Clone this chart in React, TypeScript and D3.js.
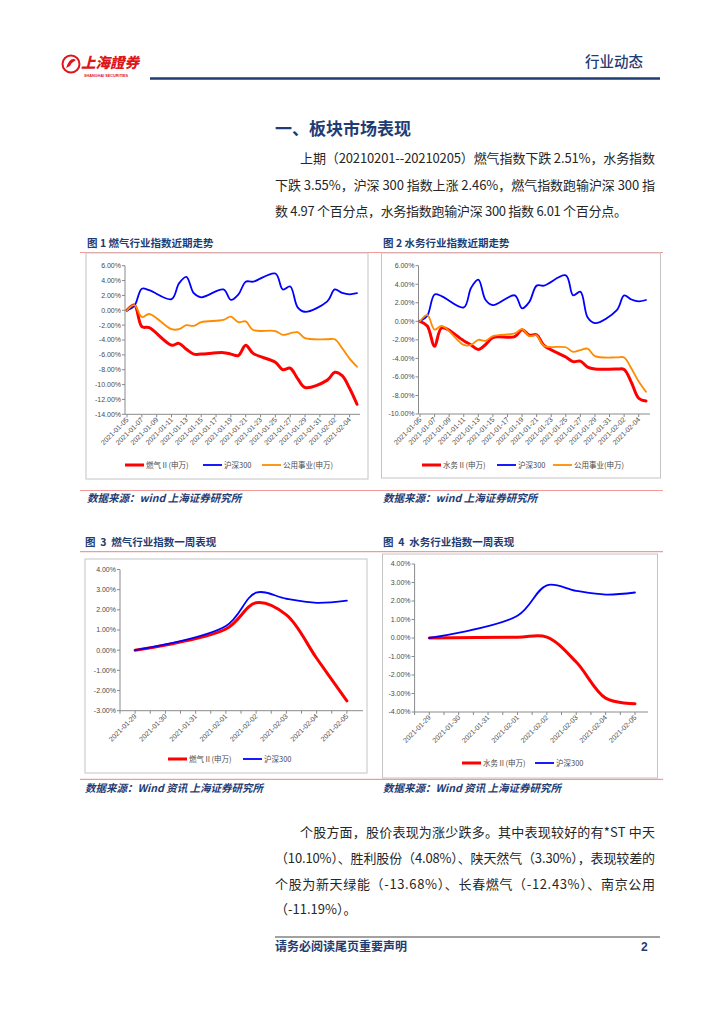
import * as d3 from 'd3';

// ---- data ----
const monthDays = ['2021-01-05', '2021-01-06', '2021-01-07', '2021-01-08', '2021-01-11', '2021-01-12', '2021-01-13', '2021-01-14', '2021-01-15', '2021-01-18', '2021-01-19', '2021-01-20', '2021-01-21', '2021-01-22', '2021-01-25', '2021-01-26', '2021-01-27', '2021-01-28', '2021-01-29', '2021-02-01', '2021-02-02', '2021-02-03', '2021-02-04', '2021-02-05'];
const hs300Month = [0, 0.6, 2.9, 2.7, 1.5, 3.6, 4.5, 2.3, 1.75, 2.8, 1.4, 2.1, 3.85, 3.85, 4.95, 2.8, 3.2, 0.4, -0.2, 1.2, 2.8, 2.35, 2.15, 2.3];
const gasMonth = [0, 0.7, -2.2, -2.35, -4.7, -4.45, -5.25, -5.9, -5.9, -5.7, -5.9, -6.1, -4.7, -5.8, -7.0, -8.0, -7.8, -9.2, -10.4, -9.4, -8.35, -8.8, -10.5, -12.65];
const utilMonth = [0, 0.7, -0.9, -0.5, -2.55, -2.55, -2.0, -2.1, -1.6, -1.3, -0.85, -1.6, -1.5, -2.65, -2.8, -3.3, -3.1, -2.95, -3.75, -3.9, -3.9, -5.1, -6.5, -7.6];
const waterMonth = [0, -0.5, -2.7, -0.7, -2.1, -2.55, -3.05, -2.5, -1.75, -1.65, -0.9, -1.5, -1.45, -2.6, -3.85, -4.35, -4.3, -4.95, -5.15, -5.15, -5.2, -6.6, -8.3, -8.6];

const weekDays = ['2021-01-29', '2021-02-01', '2021-02-02', '2021-02-03', '2021-02-04', '2021-02-05'];
const hs300Week = [0, 1.2, 2.85, 2.55, 2.35, 2.46];
const gasWeek = [0, 1.05, 2.35, 1.75, -0.4, -2.51];
const waterWeek = [0, 0.04, 0.05, -1.3, -3.25, -3.55];

const monthTickLabels = ['2021-01-05', '2021-01-07', '2021-01-09', '2021-01-11', '2021-01-13', '2021-01-15', '2021-01-17', '2021-01-19', '2021-01-21', '2021-01-23', '2021-01-25', '2021-01-27', '2021-01-29', '2021-01-31', '2021-02-02', '2021-02-04'];
const weekTickLabels = ['2021-01-29', '2021-01-30', '2021-01-31', '2021-02-01', '2021-02-02', '2021-02-03', '2021-02-04', '2021-02-05'];

const NAVY = '#1f3c73';
const PINK = '#f29a9a';
const AXIS = '#8a8a8a';
const LABEL = '#4a4a4a';
const RED = '#ff0000';
const BLUE = '#0000ff';
const ORANGE = '#ff8c00';
const CJK = '"Noto Sans CJK SC", "Noto Sans", sans-serif';
const LAT = '"Liberation Sans", Arial, sans-serif';

const parse = d3.timeParse('%Y-%m-%d');
const pct = (v: number) => v.toFixed(2) + '%';

type Series = { name: string; values: number[]; color: string; width: number; legendX: number };

function Chart(props: {
  dates: string[];
  series: Series[];
  xDomain: [Date, Date];
  xRange: [number, number];
  axisX: number;
  axisEnd: number;
  yMax: number;
  yMin: number;
  yStep: number;
  yTop: number;
  yBottom: number;
  tickDates: Date[];
  labelDates: string[];
  legendY: number;
}) {
  const x = d3.scaleTime().domain(props.xDomain).range(props.xRange);
  const y = d3.scaleLinear().domain([props.yMin, props.yMax]).range([props.yBottom, props.yTop]);
  const yTicks = d3.range(props.yMin, props.yMax + props.yStep / 2, props.yStep);
  const pts = props.dates.map(d => parse(d) as Date);
  const line = d3.line<[Date, number]>()
    .x(d => x(d[0]))
    .y(d => y(d[1]))
    .curve(d3.curveCatmullRom.alpha(0.5));
  return (
    <g>
      {/* y axis */}
      <line x1={props.axisX} x2={props.axisX} y1={props.yTop} y2={props.yBottom} stroke={AXIS} strokeWidth={1} />
      {yTicks.map(t => (
        <g key={t}>
          <line x1={props.axisX - 3} x2={props.axisX} y1={y(t)} y2={y(t)} stroke={AXIS} />
          <text x={props.axisX - 4} y={y(t)} dy="0.35em" textAnchor="end" fontSize={7} fill={LABEL} fontFamily={LAT}>{pct(t)}</text>
        </g>
      ))}
      {/* x axis */}
      <line x1={props.axisX} x2={props.axisEnd} y1={props.yBottom} y2={props.yBottom} stroke={AXIS} strokeWidth={1} />
      {props.tickDates.map((d, i) => (
        <line key={i} x1={x(d)} x2={x(d)} y1={props.yBottom} y2={props.yBottom + 3} stroke={AXIS} />
      ))}
      {props.labelDates.map(s => {
        const px = x(parse(s) as Date);
        return (
          <text key={s} transform={`translate(${px + 2},${props.yBottom + 6}) rotate(-45)`} textAnchor="end" fontSize={7} fill={LABEL} fontFamily={LAT}>{s}</text>
        );
      })}
      {/* lines */}
      {props.series.map(s => (
        <path key={s.name} d={line(pts.map((p, i) => [p, s.values[i]] as [Date, number])) || ''} fill="none" stroke={s.color} strokeWidth={s.width} strokeLinejoin="round" strokeLinecap="round" />
      ))}
      {/* legend */}
      {props.series.map(s => (
        <g key={'lg' + s.name}>
          <line x1={s.legendX} x2={s.legendX + 19} y1={props.legendY} y2={props.legendY} stroke={s.color} strokeWidth={s.width} />
          <text x={s.legendX + 21} y={props.legendY} dy="0.35em" fontSize={7.5} fill={LABEL} fontFamily={CJK}>{s.name}</text>
        </g>
      ))}
    </g>
  );
}

function day(s: string, h = 0) {
  const d = parse(s) as Date;
  return d3.timeHour.offset(d, h);
}

function weekTicks() {
  return d3.timeHour.every(12)!.range(day('2021-01-28', 12), day('2021-02-05', 1));
}

function BodyLine(p: { x: number; y: number; w?: number; children: string }) {
  return (
    <text x={p.x} y={p.y} fontSize={13} fill="#262626" fontFamily={CJK} textLength={p.w} lengthAdjust={p.w ? 'spacing' : undefined}>{p.children}</text>
  );
}

export default function App() {
  return (
    <div style={{ position: 'absolute', left: 0, top: 0 }}>
      <svg width={724} height={1024} style={{ display: 'block', background: '#fff' }}>
        {/* header */}
        <circle cx={71} cy={64} r={8.5} fill="none" stroke="#e0151b" strokeWidth={2} />
        <path d="M66,68 Q70,56 76,60 Q72,62 70,66 Z" fill="#e0151b" />
        <text x={81} y={68} fontSize={14.5} fontWeight={900} fontStyle="italic" fill="#e0151b" fontFamily={CJK}>上海證券</text>
        <text x={84} y={77} fontSize={3.8} fontWeight={700} fill="#e0151b" fontFamily={LAT}>SHANGHAI SECURITIES</text>
        <text x={585} y={67} fontSize={14.5} fill={NAVY} fontFamily={CJK} fontWeight={500}>行业动态</text>
        <line x1={150} x2={660} y1={78.5} y2={78.5} stroke={NAVY} strokeWidth={2.5} />

        {/* section heading + paragraph */}
        <text x={275} y={135} fontSize={17} fontWeight={700} fill={NAVY} fontFamily={CJK}>一、板块市场表现</text>
        <BodyLine x={300} y={163} w={355}>上期（20210201--20210205）燃气指数下跌 2.51%，水务指数</BodyLine>
        <BodyLine x={275} y={190} w={380}>下跌 3.55%，沪深 300 指数上涨 2.46%，燃气指数跑输沪深 300 指</BodyLine>
        <BodyLine x={275} y={216} w={352}>数 4.97 个百分点，水务指数跑输沪深 300 指数 6.01 个百分点。</BodyLine>

        {/* figure row 1 */}
        <text x={87} y={247} fontSize={10.5} fontWeight={700} fill={NAVY} fontFamily={CJK}>图 1 燃气行业指数近期走势</text>
        <text x={383} y={247} fontSize={10.5} fontWeight={700} fill={NAVY} fontFamily={CJK}>图 2 水务行业指数近期走势</text>
        <line x1={80} x2={663} y1={252.5} y2={252.5} stroke={PINK} strokeWidth={1.2} />
        <rect x={86} y={253} width={282} height={226} fill="none" stroke="#c4c4c4" />
        <rect x={381.5} y={253} width={279} height={225} fill="none" stroke="#c4c4c4" />
        <Chart
          dates={monthDays}
          series={[
            { name: '燃气Ⅱ(申万)', values: gasMonth, color: RED, width: 3, legendX: 125 },
            { name: '沪深300', values: hs300Month, color: BLUE, width: 1.8, legendX: 203 },
            { name: '公用事业(申万)', values: utilMonth, color: ORANGE, width: 1.8, legendX: 262 },
          ]}
          xDomain={[day('2021-01-05'), day('2021-02-05')]}
          xRange={[127, 357]}
          axisX={125}
          axisEnd={360}
          yMax={6} yMin={-14} yStep={2}
          yTop={265.7} yBottom={414.3}
          tickDates={monthTickLabels.map(s => day(s))}
          labelDates={monthTickLabels}
          legendY={465}
        />
        <Chart
          dates={monthDays}
          series={[
            { name: '水务Ⅱ(申万)', values: waterMonth, color: RED, width: 3, legendX: 422 },
            { name: '沪深300', values: hs300Month, color: BLUE, width: 1.8, legendX: 497 },
            { name: '公用事业(申万)', values: utilMonth, color: ORANGE, width: 1.8, legendX: 553 },
          ]}
          xDomain={[day('2021-01-05'), day('2021-02-05')]}
          xRange={[420, 646]}
          axisX={418.5}
          axisEnd={650}
          yMax={6} yMin={-10} yStep={2}
          yTop={265.7} yBottom={414}
          tickDates={monthTickLabels.map(s => day(s))}
          labelDates={monthTickLabels}
          legendY={465}
        />
        <line x1={80} x2={663} y1={490.5} y2={490.5} stroke={PINK} strokeWidth={1.2} />
        <text x={87} y={502} fontSize={10.5} fontWeight={700} fontStyle="italic" fill={NAVY} fontFamily={CJK}>数据来源：wind 上海证券研究所</text>
        <text x={383} y={502} fontSize={10.5} fontWeight={700} fontStyle="italic" fill={NAVY} fontFamily={CJK}>数据来源：wind 上海证券研究所</text>

        {/* figure row 2 */}
        <text x={85} y={546} fontSize={10.5} fontWeight={700} fill={NAVY} fontFamily={CJK} style={{ whiteSpace: 'pre' }}>图  3  燃气行业指数一周表现</text>
        <text x={383} y={546} fontSize={10.5} fontWeight={700} fill={NAVY} fontFamily={CJK} style={{ whiteSpace: 'pre' }}>图  4  水务行业指数一周表现</text>
        <line x1={80} x2={663} y1={551.7} y2={551.7} stroke={PINK} strokeWidth={1.2} />
        <rect x={85} y={559} width={282} height={214} fill="none" stroke="#c4c4c4" />
        <rect x={382.5} y={554} width={275} height={224} fill="none" stroke="#c4c4c4" />
        <Chart
          dates={weekDays}
          series={[
            { name: '燃气Ⅱ(申万)', values: gasWeek, color: RED, width: 3, legendX: 168 },
            { name: '沪深300', values: hs300Week, color: BLUE, width: 1.8, legendX: 243 },
          ]}
          xDomain={[day('2021-01-28', 12), day('2021-02-05', 12)]}
          xRange={[120, 362]}
          axisX={120}
          axisEnd={363}
          yMax={4} yMin={-3} yStep={1}
          yTop={569.5} yBottom={710.7}
          tickDates={weekTicks()}
          labelDates={weekTickLabels}
          legendY={759}
        />
        <Chart
          dates={weekDays}
          series={[
            { name: '水务Ⅱ(申万)', values: waterWeek, color: RED, width: 3, legendX: 462 },
            { name: '沪深300', values: hs300Week, color: BLUE, width: 1.8, legendX: 535 },
          ]}
          xDomain={[day('2021-01-28', 12), day('2021-02-05', 12)]}
          xRange={[414.6, 649.7]}
          axisX={414.6}
          axisEnd={648}
          yMax={4} yMin={-4} yStep={1}
          yTop={564} yBottom={712}
          tickDates={weekTicks()}
          labelDates={weekTickLabels}
          legendY={763}
        />
        <line x1={80} x2={663} y1={779.3} y2={779.3} stroke={PINK} strokeWidth={1.2} />
        <text x={85} y={792} fontSize={10.5} fontWeight={700} fontStyle="italic" fill={NAVY} fontFamily={CJK}>数据来源：Wind 资讯 上海证券研究所</text>
        <text x={383} y={792} fontSize={10.5} fontWeight={700} fontStyle="italic" fill={NAVY} fontFamily={CJK}>数据来源：Wind 资讯 上海证券研究所</text>

        {/* second paragraph */}
        <BodyLine x={300} y={837} w={355}>个股方面，股价表现为涨少跌多。其中表现较好的有*ST 中天</BodyLine>
        <BodyLine x={275} y={863} w={380}>（10.10%）、胜利股份（4.08%）、陕天然气（3.30%），表现较差的</BodyLine>
        <BodyLine x={275} y={889} w={380}>个股为新天绿能（-13.68%）、长春燃气（-12.43%）、南京公用</BodyLine>
        <BodyLine x={275} y={914}>（-11.19%）。</BodyLine>

        {/* footer */}
        <line x1={275} x2={660} y1={937} y2={937} stroke="#444" strokeWidth={1} />
        <text x={275} y={951} fontSize={12} fontWeight={700} fill={NAVY} fontFamily={CJK}>请务必阅读尾页重要声明</text>
        <text x={641} y={951} fontSize={12} fontWeight={700} fill={NAVY} fontFamily={LAT}>2</text>
      </svg>
    </div>
  );
}
